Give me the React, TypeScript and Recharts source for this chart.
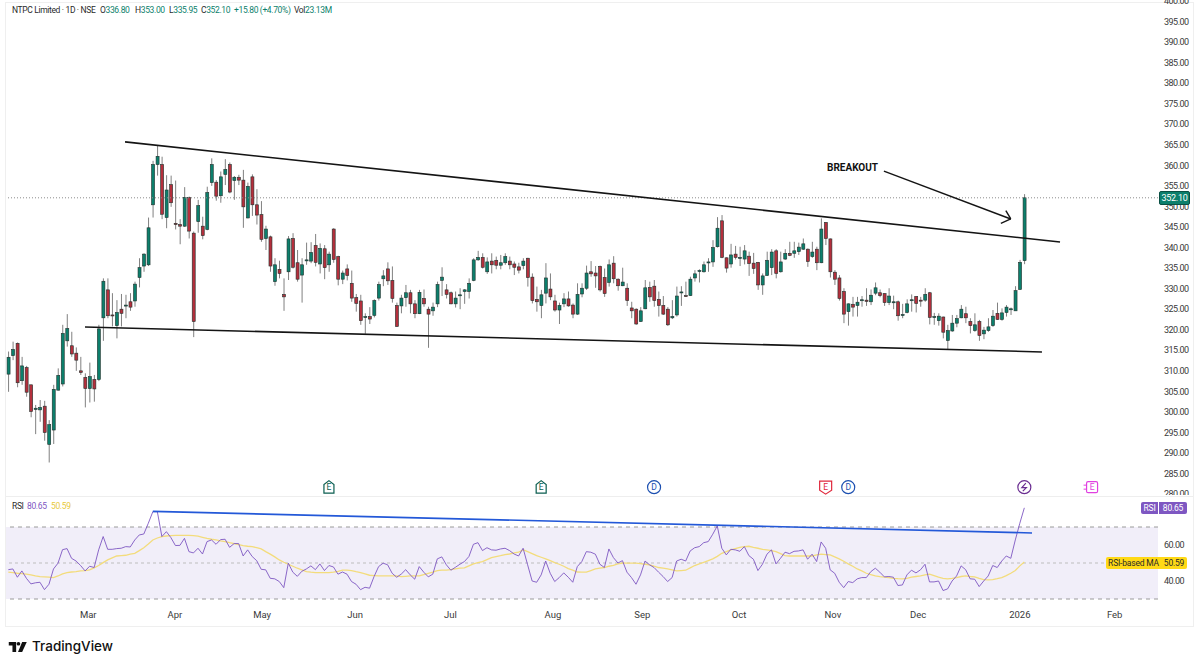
import { Bar, ComposedChart, Line, ReferenceArea, ReferenceDot, ReferenceLine, XAxis, YAxis } from "recharts";

const FONT = "Roboto, 'Noto Sans', sans-serif";
const GREEN = "#0c7f6c";
const RED = "#b42f3c";
const PURPLE = "#7e57c2";
const YELLOW = "#f3dc7c";

// daily candles
const opens = [
  309.2, 313.7, 316.7, 307.6, 310.8, 306.6, 300.6, 300.5, 301.4, 292.1,
  295.6, 305.3, 306.8, 317.3, 316.1, 314.3, 310, 308.4, 305.7, 307.9,
  307.9, 322.9, 329.7, 323.6, 321, 325, 325.8, 326.8, 327, 332.7,
  335.5, 335.8, 350.4, 360.2, 360.2, 347.3, 355.3, 345.9, 345.6, 345.2,
  352.2, 343.5, 346.3, 345.2, 344.4, 355.8, 355.9, 352.6, 357.8, 360.2,
  356.3, 357.1, 356.4, 347.2, 357.2, 350.4, 348, 342.2, 342.6, 331.7,
  334.7, 328.6, 334.1, 342.2, 336.3, 333.3, 336.8, 336.7, 340.5, 336,
  339.7, 335.8, 344.5, 337.8, 332.3, 334.8, 331.3, 327.8, 327, 323,
  323.2, 323.5, 327.7, 332.4, 334.8, 332, 325.9, 325.8, 327.8, 329,
  326.3, 323.9, 327.6, 325, 324.6, 326.3, 332, 329.7, 329, 326.3,
  328.3, 329.3, 329.3, 332, 337, 337.6, 334.1, 336.7, 336.9, 335.7,
  336.3, 336.7, 336, 335.3, 335.6, 337.4, 332.8, 327.4, 325.9, 328.9,
  329.9, 327, 324.8, 326.3, 327.5, 326, 323.8, 328.7, 330.1, 334.1,
  333.8, 335.4, 332.7, 331.5, 336.2, 332.3, 330.7, 330.1, 325.3, 325,
  322, 325.1, 330.3, 330.6, 327.4, 325.9, 325, 322.9, 323.6, 329,
  328.3, 328.3, 332.6, 334.2, 334.1, 336.3, 336.5, 340.2, 346.5, 337.5,
  336, 338.4, 337.5, 337.2, 337.9, 336.2, 336.4, 330.9, 333.2, 335.1,
  339.2, 334.1, 337.2, 338.6, 338.6, 339, 339.6, 339.6, 337.8, 339.6,
  336.3, 346.1, 342.1, 334, 332.6, 329.3, 324.4, 326.2, 325.9, 327.1,
  327.2, 326.8, 328.9, 329, 328.8, 326.6, 326.6, 326.8, 323.5, 324.2,
  327.2, 328.1, 327.2, 327.2, 329, 323, 322.2, 323.1, 317.4, 319.7,
  321.6, 322.9, 323.9, 322, 319.8, 322, 319, 319.8, 321, 324,
  322.5, 324.2, 325, 324.6, 329.8, 336.8,
];
const highs = [
  314.7, 317.1, 316.9, 313.4, 311.2, 306.6, 301.7, 302.9, 302.7, 298,
  306.6, 310.6, 321.2, 323.8, 319.5, 315.7, 313.4, 309.4, 312, 309,
  321.2, 332.5, 332.5, 328.9, 327.2, 328.7, 328.5, 328.9, 331.7, 337.4,
  338.6, 347.3, 361.1, 364.7, 362.1, 357.6, 357.5, 356.3, 346.9, 354.7,
  352.4, 343.9, 351.6, 347.5, 354.8, 361.7, 356.4, 358.5, 361.5, 360.7,
  357.4, 357.7, 358.9, 355.8, 357.8, 354.2, 351.3, 345.3, 342.9, 337.4,
  336.8, 332.5, 342.8, 343.5, 339.4, 337.4, 341.2, 341.3, 343.3, 341,
  340.6, 339, 344.7, 338, 334.4, 335.9, 334.4, 328.7, 328.5, 324,
  325.5, 327.4, 331.7, 334.5, 336.4, 335.4, 326.6, 328.5, 330.9, 329.7,
  327.2, 329.7, 329.8, 325.6, 326.6, 331.7, 335.2, 331.1, 329.3, 329.3,
  330.1, 329.9, 332.5, 337.4, 339.2, 338.6, 337.6, 338.6, 337.8, 338.2,
  338.6, 337.8, 336.6, 336.3, 337.4, 337.5, 333.7, 330.5, 329.7, 336.2,
  333.7, 328.5, 326.6, 328.9, 329.3, 326.4, 331.3, 331.3, 335.6, 336.7,
  335.5, 335.6, 334.9, 337.1, 337.9, 332.5, 335.1, 331.3, 326.8, 325.2,
  325.5, 332.1, 331.7, 332.1, 329.3, 328.2, 325.5, 327.2, 330.5, 330.6,
  331.7, 332.9, 334.5, 334.7, 336.6, 337.4, 341.8, 347.4, 347.9, 337.6,
  340.9, 340.4, 340.2, 340.6, 339, 338.7, 336.5, 333.7, 339, 339.6,
  339.6, 339, 339.6, 341.4, 341.4, 341.2, 342.2, 339.8, 341.4, 340.2,
  347.1, 346.2, 342.2, 334.5, 333.3, 330.1, 326.4, 328, 328, 328.2,
  330.1, 329.8, 331.5, 329.8, 328.9, 330.1, 328.3, 327.1, 326.3, 327.4,
  328.6, 328.2, 328, 330.1, 329.2, 324.1, 324, 323.2, 321.2, 323.6,
  323.6, 326, 325.6, 322.8, 324, 322.4, 320.7, 322.8, 324.8, 326.6,
  325.2, 326, 325.4, 330.6, 337, 353,
];
const lows = [
  304.9, 312.6, 306, 306.6, 303.7, 298.7, 294.6, 297.6, 293, 287.7,
  292.2, 305.2, 306.2, 315.9, 313.4, 310, 309, 301.1, 302.3, 302.5,
  307.5, 317.3, 322.8, 320.8, 317.9, 320.8, 322.8, 324.6, 325.6, 330.3,
  334.1, 335.5, 347.3, 357.5, 346.9, 344.7, 349.9, 344.4, 340.8, 345,
  342.2, 318.2, 343.6, 342, 344.2, 355, 351.4, 350.9, 355.2, 353.2,
  351.6, 355.2, 344.8, 347.1, 347.7, 345.6, 341.4, 339.4, 334.1, 330.7,
  332.5, 324.6, 332.1, 334.9, 331.7, 326.6, 335.8, 336.2, 335.4, 333.7,
  332.3, 334.1, 336.3, 330.8, 331.1, 332, 326.8, 324.4, 321.2, 319,
  321.4, 323, 327.1, 330.6, 330.9, 326.6, 320.7, 324, 325.6, 324,
  322.8, 323.8, 325.6, 315.6, 323.4, 325.5, 328.2, 327.6, 326.2, 325.4,
  325, 326.3, 327.6, 331.8, 336.8, 334.9, 333.6, 333.7, 334.7, 334.7,
  335.8, 334.7, 333.3, 333.7, 334.7, 330.5, 326.4, 324.4, 322.8, 326.4,
  327.2, 324.4, 321.4, 325.5, 325.6, 322.8, 323.6, 327.9, 329.7, 332.9,
  330.2, 329.3, 328, 330.5, 331.3, 329.5, 330.6, 325.8, 322.8, 321.2,
  321.9, 325, 326.8, 325.6, 323.2, 323.6, 320.9, 322.6, 323.2, 325.8,
  328, 328.2, 331.7, 331.5, 333.9, 334.1, 335.3, 340, 337.4, 333.9,
  335.1, 337.1, 335.5, 335.9, 333.1, 333.6, 329.7, 328.5, 333.1, 333.3,
  332.5, 333.9, 337, 337.9, 337.5, 338.2, 339.4, 335.3, 337.5, 334.5,
  336.2, 340.6, 332.7, 330.9, 327.1, 321.6, 321, 323.2, 323.2, 325.6,
  325.8, 326, 328.4, 327.9, 325.8, 326, 325, 322.2, 322.8, 324,
  324.4, 324.2, 325.6, 326.8, 321.3, 321.2, 321, 317.9, 315.3, 319.5,
  320.6, 322.8, 321.6, 319.1, 319.5, 317.3, 317.7, 319.5, 320.7, 322.4,
  322.2, 323.2, 323.6, 324.6, 329.7, 335.95,
];
const closes = [
  313.3, 315.2, 307.1, 311.2, 304.8, 300.1, 300.9, 301.1, 295, 296.9,
  305.5, 308.9, 319.1, 320.3, 314.1, 312.6, 309.6, 305.7, 308.6, 305.6,
  320.2, 331.8, 323.4, 323.4, 324.2, 324, 326, 325.5, 331.1, 335.1,
  338.4, 344.8, 360.2, 362.2, 348.1, 354, 350.9, 345.6, 345.2, 352.2,
  344, 322, 350.2, 342.9, 353.4, 360.2, 352.5, 357.2, 359, 353.5,
  357.1, 356.4, 349.9, 354.9, 350.4, 347.9, 342, 344.5, 335.5, 335.8,
  333.7, 328, 342.1, 335.2, 332.3, 335.8, 337, 338.8, 336.4, 339.8,
  335.1, 338.4, 337.1, 332.3, 333.8, 333.2, 327.7, 326.4, 322.2, 323.2,
  322.6, 327.1, 331, 333.1, 331.9, 327.6, 320.8, 327.7, 329, 326.3,
  323.9, 329.1, 326.3, 323.8, 325.5, 331, 332.8, 328.6, 326.3, 327.7,
  328.5, 329.7, 331.3, 337, 337.6, 335.2, 336.5, 335.8, 335.7, 336.3,
  337.8, 335.8, 335.2, 334.5, 336.7, 332.7, 327.1, 326.8, 328.5, 332.6,
  328, 324.8, 325.9, 327.5, 325.8, 323.8, 328.6, 330.1, 333.8, 333.6,
  333.1, 329.7, 328.8, 335.8, 332.4, 330.7, 331.6, 327.1, 324.6, 321.4,
  324.6, 330.2, 328, 327.1, 325.9, 323.8, 321.2, 323.2, 328.2, 329.2,
  328.1, 332.3, 333.6, 334.4, 335.8, 336.5, 340, 344.7, 337.6, 335,
  338.2, 337.6, 337.6, 339.2, 336.1, 334.9, 330.9, 333.1, 336.9, 338.9,
  333.7, 336.5, 338.6, 338.1, 339.2, 340.1, 340.9, 336.6, 338.9, 336.3,
  344.5, 342.2, 334.1, 332.3, 327.6, 323.8, 326.3, 325.5, 326.7, 327.3,
  326.9, 328.4, 330.2, 328.3, 326.6, 328.2, 326.8, 323.4, 323.7, 326.3,
  327.3, 326.4, 327, 328.6, 323, 323.2, 323.3, 319.4, 319.8, 321.6,
  322.7, 325, 322.9, 321, 321.2, 318.6, 319.9, 320.7, 323.3, 322.5,
  324.1, 325.5, 325.1, 329.5, 336.4, 352.1,
];
const rsiValues = [
  46.3, 46.7, 42.1, 45.6, 41.5, 38.4, 39, 39.3, 35.2, 38.2,
  46.7, 49.9, 57.4, 58, 52.6, 51.1, 48.6, 45.6, 48.2, 47.5,
  57.3, 64.7, 57.6, 57.6, 58, 58.2, 59.1, 58.9, 62.8, 65.6,
  66.1, 72.1, 78.5, 78.5, 64.7, 67.4, 64.1, 59.7, 59.8, 63.7,
  56.3, 55.6, 58.2, 55, 61.9, 62.8, 60.4, 63, 63.2, 58.7,
  60.8, 60.8, 53.9, 57.3, 53.6, 51.3, 46.5, 46.2, 41.5, 41.2,
  39.7, 36.3, 49.9, 44.9, 42.6, 45.4, 46.7, 48.4, 46.3, 49.5,
  45.8, 48.6, 47.8, 43.8, 45, 43.8, 39.7, 38.2, 35.2, 36.5,
  36, 42.5, 48, 49.9, 49, 44.3, 42.1, 43.8, 46.3, 43.4,
  41, 48, 44.9, 42.3, 43.8, 52.3, 53.4, 49, 46, 47.6,
  49.3, 50.8, 53.6, 60.4, 61.3, 56.9, 58.5, 57.3, 57.1, 57.8,
  58.2, 56.9, 55, 53.9, 58.2, 49, 40, 39.3, 43.4, 51.1,
  44.3, 39.7, 41.9, 44.5, 42.1, 39.3, 48, 50.8, 56.3, 56,
  54.9, 49.3, 47.5, 57.8, 53, 50, 51.3, 44.9, 41.9, 38.2,
  43.4, 51.1, 49, 47.5, 44.9, 42.5, 39.7, 41.9, 51.1, 52.1,
  51.1, 56.7, 58.5, 59.1, 61.3, 61.9, 66, 70.6, 58.2, 54.5,
  57.6, 57.3, 56.5, 59.1, 54.1, 52.1, 45.8, 49.3, 54.9, 57.3,
  49.5, 52.6, 56, 55.2, 56.5, 56.7, 57.3, 52.1, 54.9, 50.8,
  61.7, 58.2, 46.2, 44.3, 39.3, 36.3, 39.7, 39.1, 41.2, 41.9,
  41.9, 45.2, 47.1, 44.9, 42.3, 42.5, 42.1, 37.5, 37.8, 43.4,
  46, 44.5, 46.2, 49.3, 39.5, 39.5, 40, 34.7, 35.6, 40,
  42.8, 48.4, 46.3, 41.2, 41, 36.9, 40, 42.8, 48.6, 47.5,
  51.1, 53.9, 52.6, 62.8, 72.1, 80.65,
];
const rsiMaValues = [
  44.9, 44.7, 44.3, 44.1, 43.8, 43.4, 42.8, 42.4, 42.3, 42.1,
  41.9, 42.8, 44, 44.7, 45, 45.2, 45.6, 45.8, 46.2, 47.3,
  48.6, 50.2, 51.7, 52.8, 53.9, 54.1, 54.3, 54.9, 55.4, 56.9,
  58.5, 60.6, 62.8, 63.9, 64.7, 65, 65.2, 65.4, 65.4, 65.4,
  65.4, 65.2, 64.9, 64.3, 63.7, 63.2, 62.8, 62.3, 61.9, 61.3,
  60.8, 60.2, 59.7, 59.3, 59.1, 58.5, 57.8, 56.3, 54.9, 53.4,
  51.7, 50.4, 49.3, 48.2, 47.1, 46.2, 45.2, 44.9, 44.7, 44.7,
  44.7, 44.7, 44.9, 45.4, 46, 46, 45.8, 45.2, 44.7, 44,
  43.2, 43, 42.8, 42.8, 42.8, 42.8, 42.8, 42.4, 42.6, 42.8,
  42.8, 42.8, 43.6, 44.3, 45, 45.8, 46, 46, 46.3, 46.7,
  47.1, 47.3, 48.4, 49.5, 50.2, 50.8, 51.9, 53, 53.6, 54.1,
  54.7, 55, 55.6, 56, 57.4, 56.3, 55.2, 54.1, 53.2, 52.3,
  51.3, 50.2, 49.3, 48.2, 46.9, 46, 45, 44.9, 44.9, 45.8,
  46.7, 47.1, 47.5, 48.2, 48.7, 49.5, 50, 49.9, 49.9, 49.9,
  49.7, 49.3, 49, 48.2, 47.5, 47.1, 46.7, 46.2, 45.6, 45.8,
  46, 47.3, 48.6, 49.5, 50.4, 51.3, 52.3, 53.7, 55.4, 56.3,
  57.3, 58, 58.7, 59.1, 59.3, 58.7, 58.2, 57.6, 57.3, 56.9,
  56.3, 55.2, 54.1, 53.9, 53.9, 53.9, 53.9, 53.9, 53.9, 54.5,
  54.9, 54.7, 54.5, 53.4, 52.3, 51, 49.5, 48.2, 46.7, 45.6,
  44.3, 43.6, 42.8, 42.4, 42.1, 41.9, 41.5, 41.3, 41.2, 41.5,
  42.1, 42.5, 42.8, 43.4, 43.8, 43, 42.1, 41.5, 41.2, 41.5,
  41.9, 42.5, 42.8, 42.5, 42.3, 41.5, 40.8, 40.6, 40.8, 41.3,
  41.9, 43, 44.3, 45.8, 48.4, 50.59,
];

const priceTicks = [
  280, 285, 290, 295, 300, 305, 310, 315, 320, 325, 330, 335, 340, 345, 350, 355, 360, 365, 370, 375, 380, 385, 390, 395, 400,
];
const monthTicks = [17.7, 36.9, 56.2, 76.8, 97.9, 120.6, 140.4, 161.8, 182.6, 201.5, 224, 245];
const monthLabels = ["Mar", "Apr", "May", "Jun", "Jul", "Aug", "Sep", "Oct", "Nov", "Dec", "2026", "Feb"];
const rsiTicks = [40, 60];

// drawn trend lines: [bar index, value]
const upperTrend = [[25.84, 365.7], [232.9, 341.35]];
const lowerTrend = [[16.98, 320.67], [228.9, 314.6]];
const arrowShaft = [[193.9, 358.6], [222, 346.95]];
const arrowHeadA = [[220.9, 348.97], [222, 346.95]];
const arrowHeadB = [[219.8, 345.9], [222, 346.95]];
const rsiTrend = [[32, 78.7], [226.7, 66.7]];

const eventBars = [71, 118, 143, 181, 186, 225, 240];
const eventKinds = ["E", "E", "D", "E", "D", "S", "E"];
const eventColors = ["#0b5e50", "#0b5e50", "#1b4fb0", "#e0283c", "#1b4fb0", "#6a2d91", "#e040e0"];

const legendPairs = [["O", "336.80", 100], ["H", "353.00", 135], ["L", "335.95", 169], ["C", "352.10", 201]] as const;

const candles = opens.map((open, i) => ({
  i,
  open,
  high: highs[i],
  low: lows[i],
  close: closes[i],
  range: [lows[i], highs[i]],
  rsi: rsiValues[i],
  rsiMa: rsiMaValues[i],
}));

const X_DOMAIN: [number, number] = [-0.516, 254.6];

function Candle(props: any) {
  const { x, y, width, height, payload } = props;
  const { open, close, high, low } = payload;
  const at = (v: number) => y + ((high - v) / (high - low)) * height;
  const cx = x + width / 2;
  const top = at(Math.max(open, close));
  const bottom = at(Math.min(open, close));
  return (
    <g>
      <line x1={cx} x2={cx} y1={y} y2={y + height} stroke="#808080" strokeWidth={1} />
      <rect
        x={x}
        y={top}
        width={width}
        height={Math.max(bottom - top, 1)}
        fill={close >= open ? GREEN : RED}
        stroke="#20302c"
        strokeWidth={0.6}
      />
    </g>
  );
}

function EventMark(props: any) {
  const { cx, cy, index } = props;
  const color = eventColors[index];
  const kind = eventKinds[index];
  const shape =
    index < 2 ? (
      <path d={`M${cx - 5} ${cy + 6} V${cy - 2.5} L${cx} ${cy - 6.5} L${cx + 5} ${cy - 2.5} V${cy + 6} Z`} fill="#fff" stroke={color} strokeWidth={1.2} />
    ) : index === 3 ? (
      <path d={`M${cx - 6} ${cy - 6} H${cx + 6} V${cy + 3} L${cx} ${cy + 7} L${cx - 6} ${cy + 3} Z`} fill="#fff" stroke={color} strokeWidth={1.2} />
    ) : index === 6 ? (
      <g>
        <rect x={cx - 5.5} y={cy - 5.5} width={11} height={11} rx={1.5} fill="#fff" stroke={color} strokeWidth={1.2} />
        <path d={`M${cx - 8.5} ${cy - 2} H${cx - 6} M${cx - 8.5} ${cy + 2} H${cx - 6}`} stroke={color} strokeWidth={1} />
      </g>
    ) : (
      <circle cx={cx} cy={cy} r={6.5} fill="#fff" stroke={color} strokeWidth={1.2} />
    );
  return (
    <g>
      {shape}
      {kind === "S" ? (
        <path d={`M${cx + 1.5} ${cy - 4} L${cx - 2.5} ${cy + 0.5} H${cx + 2} L${cx - 1.5} ${cy + 4}`} fill="none" stroke={color} strokeWidth={1.2} />
      ) : (
        <text x={cx} y={cy + 3} textAnchor="middle" fontSize={8.5} fontFamily={FONT} fill={color}>
          {kind}
        </text>
      )}
    </g>
  );
}

const seg = (p: number[][]) => [
  { x: p[0][0], y: p[0][1] },
  { x: p[1][0], y: p[1][1] },
];

const label = { position: "absolute", fontFamily: FONT, whiteSpace: "nowrap" } as const;
const legend = { ...label, top: 5, fontSize: 8.5, letterSpacing: -0.35, color: "#2a2a2a" } as const;
const axisTick = { fill: "#3a3a3a", fontSize: 9, letterSpacing: -0.5, fontFamily: FONT };

export default function App() {
  return (
    <div style={{ position: "absolute", left: 0, top: 0, width: 1200, height: 666, background: "#fff", overflow: "hidden" }}>
      <div style={{ position: "absolute", left: 5, top: 2, width: 1187, height: 623, border: "1px solid #efefef" }} />
      <div style={{ position: "absolute", left: 6, top: 496, width: 1187, height: 1, background: "#eeeeee" }} />

      <div style={{ position: "absolute", left: 0, top: 0 }}>
        <ComposedChart width={1200} height={495} data={candles} margin={{ top: 0, right: 0, bottom: 0, left: 6 }}>
          <XAxis dataKey="i" type="number" domain={X_DOMAIN} allowDataOverflow hide />
          <YAxis
            orientation="right"
            width={42}
            type="number"
            domain={[279.79, 400.23]}
            allowDataOverflow
            ticks={priceTicks}
            interval={0}
            axisLine={false}
            tickLine={false}
            tickSize={0}
            tickMargin={6}
            tick={axisTick}
            tickFormatter={(v: number) => v.toFixed(2)}
          />
          <ReferenceLine y={352.1} stroke="#8c8c8c" strokeDasharray="1 2" />
          <Bar dataKey="range" barSize={3} shape={<Candle />} isAnimationActive={false} />
          <ReferenceLine segment={seg(upperTrend)} stroke="#141414" strokeWidth={1.6} />
          <ReferenceLine segment={seg(lowerTrend)} stroke="#141414" strokeWidth={1.6} />
          <ReferenceLine segment={seg(arrowShaft)} stroke="#141414" strokeWidth={1.4} />
          <ReferenceLine segment={seg(arrowHeadA)} stroke="#141414" strokeWidth={1.4} />
          <ReferenceLine segment={seg(arrowHeadB)} stroke="#141414" strokeWidth={1.4} />
          {eventBars.map((bar, index) => (
            <ReferenceDot key={bar} x={bar} y={281.7} r={6} shape={(p: any) => <EventMark {...p} index={index} />} />
          ))}
        </ComposedChart>
      </div>

      <div style={{ position: "absolute", left: 0, top: 497 }}>
        <ComposedChart width={1200} height={133} data={candles} margin={{ top: 0, right: 0, bottom: 0, left: 6 }}>
          <XAxis
            dataKey="i"
            type="number"
            domain={X_DOMAIN}
            allowDataOverflow
            ticks={monthTicks}
            interval={0}
            height={29}
            axisLine={false}
            tickLine={false}
            tickSize={0}
            tickMargin={10}
            tick={{ fill: "#3a3a3a", fontSize: 9.5, fontFamily: FONT }}
            tickFormatter={(v: number) => monthLabels[monthTicks.indexOf(v)]}
          />
          <YAxis
            orientation="right"
            width={42}
            type="number"
            domain={[28.89, 86.67]}
            allowDataOverflow
            ticks={rsiTicks}
            interval={0}
            axisLine={false}
            tickLine={false}
            tickSize={0}
            tickMargin={6}
            tick={axisTick}
            tickFormatter={(v: number) => v.toFixed(2)}
          />
          <ReferenceArea y1={30} y2={70} fill="#f1eef9" fillOpacity={1} stroke="none" />
          <ReferenceLine y={70} stroke="#9a9a9a" strokeWidth={1} strokeDasharray="4 4" />
          <ReferenceLine y={50} stroke="#bdbdbd" strokeWidth={1} strokeDasharray="3 3" />
          <ReferenceLine y={30} stroke="#9a9a9a" strokeWidth={1} strokeDasharray="4 4" />
          <Line dataKey="rsiMa" stroke={YELLOW} strokeWidth={1.3} dot={false} isAnimationActive={false} />
          <Line dataKey="rsi" stroke={PURPLE} strokeWidth={0.9} dot={false} isAnimationActive={false} />
          <ReferenceLine segment={seg(rsiTrend)} stroke="#2358d8" strokeWidth={1.6} />
        </ComposedChart>
      </div>

      <div style={{ ...legend, left: 12 }}>NTPC Limited · 1D · NSE</div>
      {legendPairs.map(([k, v, x]) => (
        <div key={k} style={{ ...legend, left: x }}>
          {k}
          <span style={{ color: GREEN }}>{v}</span>
        </div>
      ))}
      <div style={{ ...legend, left: 234, color: GREEN }}>+15.80 (+4.70%)</div>
      <div style={{ ...legend, left: 294 }}>
        Vol<span style={{ color: GREEN }}>23.13M</span>
      </div>

      <div style={{ ...label, left: 827, top: 162, fontSize: 10, fontWeight: 700, color: "#111" }}>BREAKOUT</div>

      <div style={{ ...label, left: 1159, top: 191, width: 31, height: 14, lineHeight: "12px", textAlign: "center", background: GREEN, borderRadius: 2, border: "1px solid #0a4f43", boxSizing: "border-box", color: "#fff", fontSize: 9, letterSpacing: -0.3 }}>
        352.10
      </div>

      <div style={{ ...legend, left: 12, top: 501 }}>RSI</div>
      <div style={{ ...legend, left: 27, top: 501, color: PURPLE }}>80.65</div>
      <div style={{ ...legend, left: 51, top: 501, color: "#e8c93a" }}>50.59</div>

      <div style={{ ...label, left: 1141, top: 502, width: 46, height: 12, lineHeight: "12px", background: PURPLE, borderRadius: 2, color: "#fff", fontSize: 8.5, letterSpacing: -0.2, display: "flex" }}>
        <span style={{ width: 17, textAlign: "center", borderRight: "1px solid #fff" }}>RSI</span>
        <span style={{ flex: 1, textAlign: "center" }}>80.65</span>
      </div>
      <div style={{ ...label, left: 1106, top: 557, width: 81, height: 12, lineHeight: "12px", background: "#ffd915", borderRadius: 2, color: "#2a2a2a", fontSize: 8.5, letterSpacing: -0.2, display: "flex" }}>
        <span style={{ width: 55, textAlign: "center" }}>RSI-based MA</span>
        <span style={{ flex: 1, textAlign: "center" }}>50.59</span>
      </div>

      <svg style={{ position: "absolute", left: 8, top: 641 }} width={20} height={12} viewBox="0 0 20 13">
        <path d="M0 1 H8 V12 H4 V5 H0 Z" fill="#111" />
        <circle cx="10.5" cy="3" r="2" fill="#111" />
        <path d="M14.5 1 H19.5 L14.5 12 H10 Z" fill="#111" />
      </svg>
      <div style={{ ...label, left: 32, top: 638, fontSize: 13.5, fontWeight: 500, color: "#111", fontFamily: "Inter, Roboto, sans-serif" }}>TradingView</div>
    </div>
  );
}
